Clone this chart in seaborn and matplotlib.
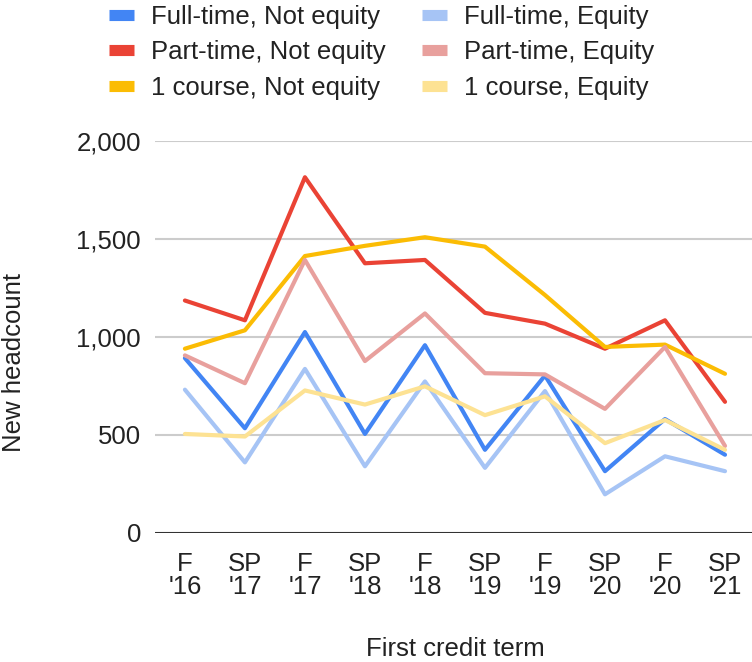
import matplotlib
matplotlib.use("Agg")
import matplotlib.pyplot as plt
import seaborn as sns
import pandas as pd
from matplotlib.ticker import FuncFormatter

terms = ["F\n'16", "SP\n'17", "F\n'17", "SP\n'18", "F\n'18", "SP\n'19", "F\n'19", "SP\n'20", "F\n'20", "SP\n'21"]

series_names = ["Full-time, Not equity", "Part-time, Not equity", "1 course, Not equity",
                "Full-time, Equity", "Part-time, Equity", "1 course, Equity"]

full_not_equity = [892, 534, 1025, 505, 958, 424, 803, 315, 581, 399]
part_not_equity = [1186, 1085, 1815, 1376, 1393, 1123, 1068, 940, 1085, 669]
course_not_equity = [940, 1034, 1413, 1465, 1509, 1461, 1214, 949, 961, 812]
full_equity = [731, 360, 837, 340, 773, 332, 724, 197, 391, 315]
part_equity = [906, 764, 1393, 877, 1120, 815, 809, 633, 949, 444]
course_equity = [505, 492, 727, 655, 748, 601, 697, 458, 576, 424]

colors = ["#4285F4", "#EA4335", "#FBBC04", "#A6C4F5", "#E8A09D", "#FDE293"]

values = [full_not_equity, part_not_equity, course_not_equity, full_equity, part_equity, course_equity]
rows = []
for name, vals in zip(series_names, values):
    for t, v in zip(terms, vals):
        rows.append({"term": t, "headcount": v, "series": name})
df = pd.DataFrame(rows)

sns.set_theme(style="white")
plt.rcParams["font.family"] = ["Liberation Sans", "DejaVu Sans"]

fig = plt.figure(figsize=(7.52, 6.62), dpi=100)
ax = fig.add_axes([0.206, 0.195, 0.798, 0.592])

sns.lineplot(data=df, x="term", y="headcount", hue="series", hue_order=series_names,
             palette=dict(zip(series_names, colors)), linewidth=3, sort=False, ax=ax,
             legend=True)

ax.set_xlim(-0.5, 9.5)
ax.set_ylim(0, 2000)
ax.set_yticks([0, 500, 1000, 1500, 2000])
ax.yaxis.set_major_formatter(FuncFormatter(lambda v, p: f"{int(v):,}"))
ax.grid(axis="y", color="#cccccc", linewidth=1.5)
ax.grid(axis="x", visible=False)
ax.set_axisbelow(True)
for s in ax.spines.values():
    s.set_visible(False)
ax.axhline(0, color="#333333", linewidth=2.2, zorder=1)

ax.tick_params(axis="both", length=0, labelsize=18.5, colors="#222222")
ax.tick_params(axis="y", pad=10)
ax.tick_params(axis="x", pad=14)
for lab in ax.get_xticklabels():
    lab.set_linespacing(0.95)

ax.set_xlabel("First credit term", fontsize=18.5, color="#222222")
ax.set_ylabel("New headcount", fontsize=18.5, color="#222222")
ax.xaxis.set_label_coords(0.5, -0.265)
ax.yaxis.set_label_coords(-0.215, 0.435)

sns.move_legend(ax, "upper center", bbox_to_anchor=(0.507, 0.993), bbox_transform=fig.transFigure,
                ncol=2, frameon=False, title=None, fontsize=18.5,
                handlelength=1.0, handletextpad=0.65, columnspacing=1.4,
                labelspacing=0.45, borderaxespad=0.0, borderpad=0.0)
leg = ax.get_legend()
for h in leg.legend_handles:
    h.set_linewidth(8)
    h.set_solid_capstyle("butt")
for t in leg.get_texts():
    t.set_color("#222222")

fig.savefig("out.png", dpi=100)
